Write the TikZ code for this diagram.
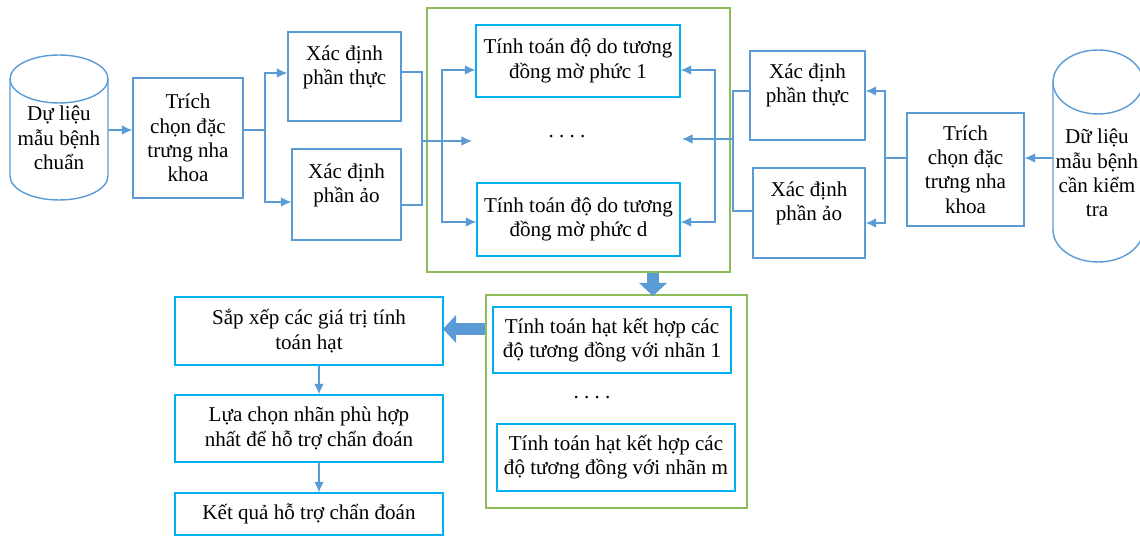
\documentclass[tikz,border=0pt]{standalone}
\usepackage{fontspec}
\setmainfont{Liberation Serif}
\usetikzlibrary{positioning,arrows.meta}
\definecolor{boxblue}{HTML}{5B9BD5}
\definecolor{boxcyan}{HTML}{00B0F0}
\definecolor{frgreen}{HTML}{8FBC5A}
\definecolor{arrblue}{HTML}{5B9BD5}
\tikzset{
  txt/.style={align=center, inner sep=0pt, font=\fontsize{12}{13.8}\selectfont},
  box/.style={txt, draw=boxblue, line width=0.8pt},
  cbox/.style={box, draw=boxcyan},
  frame/.style={draw=frgreen, line width=0.8pt, inner sep=0pt},
  dbline/.style={draw=boxblue, line width=0.8pt},
  conn/.style={draw=arrblue, line width=0.8pt},
  blockarr/.style={draw=arrblue, line width=0.24cm, -{Triangle[width=0.54cm,length=0.26cm]}}
}
\begin{document}
\begin{tikzpicture}[x=0.02cm, y=-0.02cm, >={Latex[length=6pt,width=5.5pt]}]
  \useasboundingbox (0,0) rectangle (1140,543);
  % frames
  \node[frame, minimum width=6.06cm, minimum height=5.28cm] (g1) at (578.5,140) {};
  \node[frame, minimum width=5.22cm, minimum height=4.26cm] (g2) at (616.5,401.5) {};
  % left database
  \draw[dbline] (10,79) -- (10,176) arc[start angle=180, end angle=360, x radius=0.98cm, y radius=0.48cm] -- (108,79);
  \draw[dbline] (59,79) ellipse[x radius=0.98cm, y radius=0.48cm];
  \coordinate (cylL) at (108,130);
  \node[txt] (dataL) at (59,138) {Dự liệu\\mẫu bệnh\\chuẩn};
  % left side
  \node[box, minimum width=2.2cm, minimum height=2.4cm] (trichL) at (188,138) {Trích\\chọn đặc\\trưng nha\\khoa};
  \node[box, minimum width=2.26cm, minimum height=1.78cm,
        label={[txt,yshift=0.18cm]center:Xác định\\phần thực}] (thucL) at (344.5,76.5) {};
  \node[box, minimum width=2.18cm, minimum height=1.82cm,
        label={[txt,yshift=0.18cm]center:Xác định\\phần ảo}] (aoL) at (346.5,194.5) {};
  % similarity boxes
  \node[cbox, minimum width=4.08cm, minimum height=1.44cm] (tinh1) at (578,61) {Tính toán độ do tương\\đồng mờ phức 1};
  \node[txt] (dots1) at (567,137) {.\ .\ .\ .};
  \node[cbox, minimum width=4.06cm, minimum height=1.46cm] (tinhD) at (578.5,219.5) {Tính toán độ do tương\\đồng mờ phức d};
  % right side
  \node[box, minimum width=2.3cm, minimum height=1.78cm,
        label={[txt,yshift=0.2cm]center:Xác định\\phần thực}] (thucR) at (807.5,95.5) {};
  \node[box, minimum width=2.24cm, minimum height=1.8cm,
        label={[txt,yshift=0.19cm]center:Xác định\\phần ảo}] (aoR) at (809,213) {};
  \node[box, minimum width=2.34cm, minimum height=2.26cm] (trichR) at (965.5,169.5) {Trích\\chọn đặc\\trưng nha\\khoa};
  % right database
  \draw[dbline] (1053,82) -- (1053,230) arc[start angle=180, end angle=360, x radius=0.9cm, y radius=0.64cm] -- (1143,82);
  \draw[dbline] (1098,82) ellipse[x radius=0.9cm, y radius=0.64cm];
  \coordinate (cylR) at (1053,158);
  \node[txt] (dataR) at (1097,173) {Dữ liệu\\mẫu bệnh\\cần kiểm\\tra};
  % combination boxes
  \node[cbox, minimum width=4.76cm, minimum height=1.32cm] (hat1) at (612,340) {Tính toán hạt kết hợp các\\độ tương đồng với nhãn 1};
  \node[txt] (dots2) at (592,398) {.\ .\ .\ .};
  \node[cbox, minimum width=4.76cm, minimum height=1.34cm] (hatM) at (616,457.5) {Tính toán hạt kết hợp các\\độ tương đồng với nhãn m};
  % result column
  \node[cbox, minimum width=5.36cm, minimum height=1.36cm] (sapxep) at (309,331) {Sắp xếp các giá trị tính\\toán hạt};
  \node[cbox, minimum width=5.36cm, minimum height=1.34cm] (luachon) at (309,428.5) {Lựa chọn nhãn phù hợp\\nhất để hỗ trợ chẩn đoán};
  \node[cbox, minimum width=5.36cm, minimum height=0.84cm] (ketqua) at (309,514) {Kết quả hỗ trợ chẩn đoán};

  % left connectors
  \coordinate (sL) at (265,130);
  \draw[conn,->] (cylL) -- (trichL.west |- sL);
  \draw[conn] (trichL.east |- sL) -- (sL);
  \draw[conn,->] (sL) |- ([yshift=0.07cm]thucL.west);
  \draw[conn,->] (sL) |- ([yshift=-0.15cm]aoL.west);
  \coordinate (jL) at (422,141);
  \coordinate (mL) at (472,141);
  \coordinate (bL) at (442,141);
  \draw[conn] ([yshift=0.09cm]thucL.east) -| (jL);
  \draw[conn] ([yshift=-0.21cm]aoL.east) -| (jL);
  \draw[conn,->] (jL) -- (mL);
  \draw[conn,->] (bL) |- ([yshift=-0.18cm]tinh1.west);
  \draw[conn,->] (bL) |- ([yshift=-0.05cm]tinhD.west);
  % right connectors
  \coordinate (jR) at (733,139);
  \coordinate (bR) at (715,139);
  \coordinate (mR) at (682,139);
  \draw[conn,->] (jR) -- (mR);
  \draw[conn,->] (bR) |- ([yshift=-0.18cm]tinh1.east);
  \draw[conn,->] (bR) |- ([yshift=-0.05cm]tinhD.east);
  \draw[conn] ([yshift=0.09cm]thucR.west) -| (jR);
  \draw[conn] ([yshift=0.04cm]aoR.west) -| (jR);
  \coordinate (sR) at (885,158);
  \draw[conn] (trichR.west |- sR) -- (sR);
  \draw[conn,->] (sR) |- ([yshift=0.09cm]thucR.east);
  \draw[conn,->] (sR) |- ([yshift=-0.2cm]aoR.east);
  \draw[conn,->] (cylR) -- (trichR.east |- sR);
  % block arrows
  \coordinate (dA) at (653,296);
  \coordinate (lA) at (443,329);
  \draw[blockarr] (g1.south -| dA) -- (dA);
  \draw[blockarr] (g2.west |- lA) -- (lA);
  % result chain
  \draw[conn,->] ([xshift=0.2cm]sapxep.south) -- ([xshift=0.2cm]luachon.north);
  \draw[conn,->] ([xshift=0.2cm]luachon.south) -- ([xshift=0.2cm]ketqua.north);
\end{tikzpicture}
\end{document}
